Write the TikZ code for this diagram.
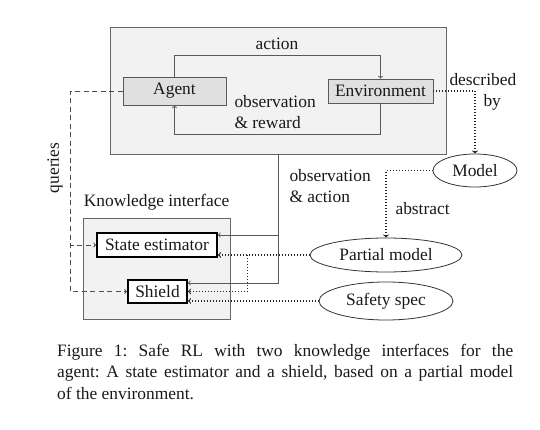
\documentclass[tikz,border=0pt]{standalone}
\usepackage{fontspec}
\setmainfont{Liberation Serif}
\usetikzlibrary{shapes.geometric}
\frenchspacing
\tikzset{
  every node/.append style={font=\fontsize{17.4}{21.5}\selectfont, text=black!90},
  loopbox/.style={draw=black!60, fill=black!5, line width=0.9pt, inner sep=0pt},
  unit/.style={draw=black!65, fill=black!12, line width=0.9pt, inner sep=0pt},
  iface/.style={draw=black, fill=white, line width=1.8pt, inner sep=0pt},
  know/.style={ellipse, draw=black!80, line width=0.8pt, inner sep=0pt},
  flow/.style={draw=black!65, line width=0.9pt, ->},
  info/.style={draw=black!85, line width=1.1pt, dash pattern=on 1pt off 2pt, ->},
  query/.style={draw=black!70, line width=0.9pt, dash pattern=on 5pt off 3.5pt, ->},
}
\begin{document}
\begin{tikzpicture}[x=1pt,y=-1pt]
\useasboundingbox (0,0) rectangle (540,430);
% the RL loop
\node[loopbox, minimum width=336pt, minimum height=127pt] (loop) at (278,90.5) {};
\node[unit, minimum width=103pt, minimum height=28pt] (agent) at (174.5,91) {Agent};
\node[unit, minimum width=105pt, minimum height=24pt] (env) at (380.5,91) {Environment};
\draw[flow] (agent.north) -- ++(0,-21) -| (env.north);
\draw[flow] (env.south) -- ++(0,31) -| (agent.south);
\node (act) at (277,44) {action};
\node[align=left, anchor=west] (obsrew) at (231,112) {observation\\\& reward};
% models
\node[know, minimum width=84pt, minimum height=33pt] (model) at (475,170.5) {Model};
\node[know, minimum width=152pt, minimum height=34pt] (partial) at (386,255) {Partial model};
\node[know, minimum width=134pt, minimum height=38pt] (safety) at (386,301) {Safety spec};
\draw[info] (env.east) -| (model.north);
\node[align=left, anchor=west] (descr) at (446,92) {described\\\hspace*{34pt}by};
\draw[info] (model.west) -| (partial.north);
\node[anchor=west] (abs) at (392,209) {abstract};
% knowledge interface
\node[loopbox, minimum width=147pt, minimum height=101pt] (ki) at (156.5,268.5) {};
\node (kilabel) at (156.5,202) {Knowledge interface};
\node[iface, minimum width=120pt, minimum height=24pt] (state) at (157,245) {State estimator};
\node[iface, minimum width=59pt, minimum height=23pt] (shield) at (157.5,291.5) {Shield};
\draw[flow] (loop.south) |- ([yshift=10pt]state.east);
\draw[flow] (loop.south) |- ([yshift=8.5pt]shield.east);
\node[align=left, anchor=west] (obsact) at (286,186) {observation\\\& action};
\draw[info] (partial.west) -- ([yshift=-10pt]state.east);
\draw[info] ([xshift=30pt,yshift=-10pt]state.east) |- (shield.east);
\draw[info] (safety.west) -- (safety.west -| shield.east);
% queries
\draw[query] (agent.west) -- ++(-52,0) |- (state.west);
\draw[query] (agent.west) -- ++(-52,0) |- (shield.west);
\node[rotate=90] (queries) at (55,168) {queries};
% caption
\node[anchor=north west, text width=456pt, align=justify, inner sep=0pt] (caption) at (57,344)
  {Figure 1: Safe RL with two knowledge interfaces for the\linebreak agent: A state estimator and a shield, based on a partial model\linebreak of the environment.};
\end{tikzpicture}
\end{document}
